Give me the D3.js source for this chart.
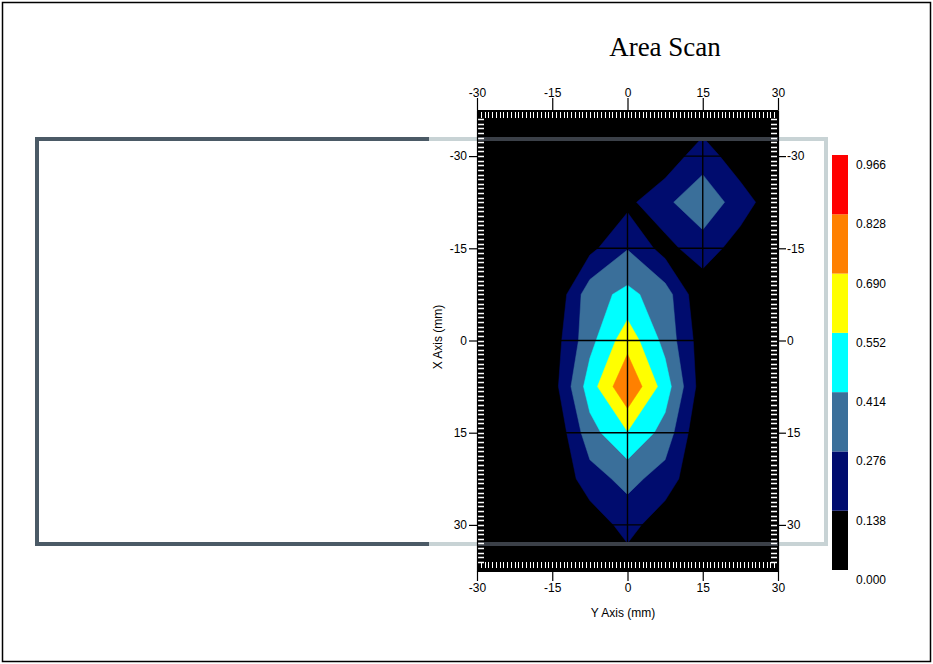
<!DOCTYPE html>
<html><head><meta charset="utf-8">
<script src="https://cdn.jsdelivr.net/npm/d3@7"></script>
<style>
body{margin:0;background:#fff}
svg{display:block}
text{font-family:"Liberation Sans",Arial,sans-serif}
</style>
</head><body><svg id="c" width="933" height="664"></svg>
<script>
// ---- data ----
const xGrid = [-30, -22.5, -15, -7.5, 0, 7.5, 15, 22.5, 30];          // Y Axis (mm) columns
const yGrid = [-37.5, -30, -22.5, -15, -7.5, 0, 7.5, 15, 22.5, 30, 37.5]; // X Axis (mm) rows
const scanValues = [
  [0, 0, 0,    0,     0,     0,     0,     0,     0],
  [0, 0, 0,    0,     0,     0.027, 0.235, 0.02,  0],
  [0, 0, 0,    0,     0.10,  0.258, 0.337, 0.232, 0],
  [0, 0, 0,    0.10,  0.27,  0.08,  0.235, 0.05,  0],
  [0, 0, 0,    0.36,  0.45,  0.34,  0.015, 0,     0],
  [0, 0, 0.06, 0.37,  0.636, 0.37,  0.06,  0,     0],
  [0, 0, 0.07, 0.484, 0.82,  0.484, 0.06,  0,     0],
  [0, 0, 0,    0.36,  0.545, 0.36,  0,     0,     0],
  [0, 0, 0,    0.217, 0.32,  0.217, 0,     0,     0],
  [0, 0, 0,    0.05,  0.19,  0.05,  0,     0,     0],
  [0, 0, 0,    0.02,  0.06,  0.02,  0,     0,     0]
];
const levels = [0, 0.138, 0.276, 0.414, 0.552, 0.690, 0.828, 0.966];
const levelLabels = ["0.000", "0.138", "0.276", "0.414", "0.552", "0.690", "0.828", "0.966"];
const bandColors = ["#000000", "#000c6e", "#3a6f9a", "#00ffff", "#ffff00", "#ff8000", "#ff0000"];
const axisTicks = [-30, -15, 0, 15, 30];
const seamX = [0, 15];
const seamY = [-30, -15, 0, 15, 30];
const titleText = "Area Scan";
const xLabel = "Y Axis (mm)";
const yLabel = "X Axis (mm)";

// ---- layout ----
const svg = d3.select("#c");
const x = d3.scaleLinear().domain([-30, 30]).range([477, 778]);
const y = d3.scaleLinear().domain([-37.5, 37.5]).range([110, 571]);
const [px0, px1] = x.range(), [py0, py1] = y.range();
const fmt = d => String(d);

// outer border
svg.append("rect").attr("x", 2.5).attr("y", 2.5).attr("width", 928).attr("height", 659)
  .attr("fill", "none").attr("stroke", "#000").attr("stroke-width", 1.5);

// title
svg.append("text").attr("x", 665).attr("y", 56).attr("text-anchor", "middle")
  .style("font-family", "'Liberation Serif','Times New Roman',serif").style("font-size", "27px")
  .text(titleText);

// frame rectangle behind (panel)
const frame = {x0: 37, x1: 826, y0: 139, y1: 544, split: 429};
const dark = "#4b5a66", light = "#c8d3d5";
const fr = svg.append("g").attr("stroke-width", 4).attr("fill", "none");
fr.append("line").attr("x1", frame.x0 - 2).attr("x2", frame.split).attr("y1", frame.y0).attr("y2", frame.y0).attr("stroke", dark);
fr.append("line").attr("x1", frame.x0 - 2).attr("x2", frame.split).attr("y1", frame.y1).attr("y2", frame.y1).attr("stroke", dark);
fr.append("line").attr("x1", frame.x0).attr("x2", frame.x0).attr("y1", frame.y0).attr("y2", frame.y1).attr("stroke", dark);
fr.append("line").attr("x1", frame.split).attr("x2", frame.x1 + 2).attr("y1", frame.y0).attr("y2", frame.y0).attr("stroke", light);
fr.append("line").attr("x1", frame.split).attr("x2", frame.x1 + 2).attr("y1", frame.y1).attr("y2", frame.y1).attr("stroke", light);
fr.append("line").attr("x1", frame.x1).attr("x2", frame.x1).attr("y1", frame.y0).attr("y2", frame.y1).attr("stroke", light);

// plot background
svg.append("defs").append("clipPath").attr("id", "clip")
  .append("rect").attr("x", px0).attr("y", py0).attr("width", px1 - px0).attr("height", py1 - py0);
svg.append("rect").attr("x", px0).attr("y", py0).attr("width", px1 - px0).attr("height", py1 - py0)
  .attr("fill", bandColors[0]);

// contours
const n = xGrid.length, m = yGrid.length;
const gx = d3.scaleLinear().domain([0.5, n - 0.5]).range([xGrid[0], xGrid[n - 1]]);
const gy = d3.scaleLinear().domain([0.5, m - 0.5]).range([yGrid[0], yGrid[m - 1]]);
const contours = d3.contours().size([n, m]).smooth(true)
  .thresholds(levels.slice(1, -1))(scanValues.flat());
const proj = d3.geoTransform({point(a, b) { this.stream.point(x(gx(a)), y(gy(b))); }});
const path = d3.geoPath(proj);
const plot = svg.append("g").attr("clip-path", "url(#clip)");
plot.selectAll("path.band").data(contours).join("path").attr("class", "band")
  .attr("d", path).attr("fill", (d, i) => bandColors[i + 1]).attr("stroke", (d, i) => bandColors[i + 1]).attr("stroke-width", 0.5);

// seam lines
plot.selectAll("line.sx").data(seamX).join("line").attr("class", "sx")
  .attr("x1", d => x(d)).attr("x2", d => x(d)).attr("y1", py0).attr("y2", py1)
  .attr("stroke", "#000").attr("stroke-width", 1.4);
plot.selectAll("line.sy").data(seamY).join("line").attr("class", "sy")
  .attr("x1", px0).attr("x2", px1).attr("y1", d => y(d)).attr("y2", d => y(d))
  .attr("stroke", "#000").attr("stroke-width", 1.4);

// frame line passing over the plot
plot.selectAll("line.fl").data([frame.y0, frame.y1]).join("line").attr("class", "fl")
  .attr("x1", px0).attr("x2", px1).attr("y1", d => d).attr("y2", d => d)
  .attr("stroke", "#3b4048").attr("stroke-width", 4);

// white ruler ticks inside
const minorX = d3.range(-29.25, 29.3, 0.75);
const minorY = d3.range(-36, 36.1, 0.75);
const rt = svg.append("g").attr("stroke", "#fff");
rt.selectAll("line.t").data(minorX).join("line").attr("class", "t")
  .attr("x1", d => Math.round(x(d)) + 0.5).attr("x2", d => Math.round(x(d)) + 0.5)
  .attr("y1", py0 + 2).attr("y2", py0 + 8).attr("stroke-width", 1);
rt.selectAll("line.b").data(minorX).join("line").attr("class", "b")
  .attr("x1", d => Math.round(x(d)) + 0.5).attr("x2", d => Math.round(x(d)) + 0.5)
  .attr("y1", py1 - 9).attr("y2", py1 - 3).attr("stroke-width", 1);
rt.selectAll("line.l").data(minorY).join("line").attr("class", "l")
  .attr("x1", px0 + 1).attr("x2", px0 + 7).attr("y1", d => Math.round(y(d)) + 0.5).attr("y2", d => Math.round(y(d)) + 0.5)
  .attr("stroke-width", 1.5);
rt.selectAll("line.r").data(minorY).join("line").attr("class", "r")
  .attr("x1", px1 - 7).attr("x2", px1 - 1).attr("y1", d => Math.round(y(d)) + 0.5).attr("y2", d => Math.round(y(d)) + 0.5)
  .attr("stroke-width", 1.5);

// axes
function styleAxis(g) {
  g.selectAll("text").style("font-size", "12px").attr("fill", "#000");
  g.selectAll("line,path").attr("stroke", "#000").attr("stroke-width", 1.2);
}
svg.append("g").attr("transform", `translate(0,${py0})`)
  .call(d3.axisTop(x).tickValues(axisTicks).tickFormat(fmt).tickSize(12).tickSizeOuter(0).tickPadding(1)).call(styleAxis);
svg.append("g").attr("transform", `translate(0,${py1})`)
  .call(d3.axisBottom(x).tickValues(axisTicks).tickFormat(fmt).tickSize(10).tickSizeOuter(0).tickPadding(2)).call(styleAxis);
svg.append("g").attr("transform", `translate(${px0},0)`)
  .call(d3.axisLeft(y).tickValues(axisTicks).tickFormat(fmt).tickSize(8).tickSizeOuter(0).tickPadding(2)).call(styleAxis);
svg.append("g").attr("transform", `translate(${px1},0)`)
  .call(d3.axisRight(y).tickValues(axisTicks).tickFormat(fmt).tickSize(8).tickSizeOuter(0).tickPadding(1)).call(styleAxis);

// axis titles
svg.append("text").attr("x", 623).attr("y", 617).attr("text-anchor", "middle").style("font-size", "12px").text(xLabel);
svg.append("text").attr("transform", "translate(442,337) rotate(-90)").attr("text-anchor", "middle")
  .style("font-size", "12px").text(yLabel);

// color bar
const cb = d3.scaleLinear().domain([levels[0], levels[levels.length - 1]]).range([570, 155]);
const cbg = svg.append("g");
cbg.selectAll("rect").data(d3.range(levels.length - 1)).join("rect")
  .attr("x", 832).attr("width", 16)
  .attr("y", i => cb(levels[i + 1])).attr("height", i => cb(levels[i]) - cb(levels[i + 1]))
  .attr("fill", i => bandColors[i]);
cbg.selectAll("text").data(levels).join("text")
  .attr("x", 856).attr("y", d => cb(d) + 14).style("font-size", "12px")
  .text((d, i) => levelLabels[i]);
</script>
</body></html>
